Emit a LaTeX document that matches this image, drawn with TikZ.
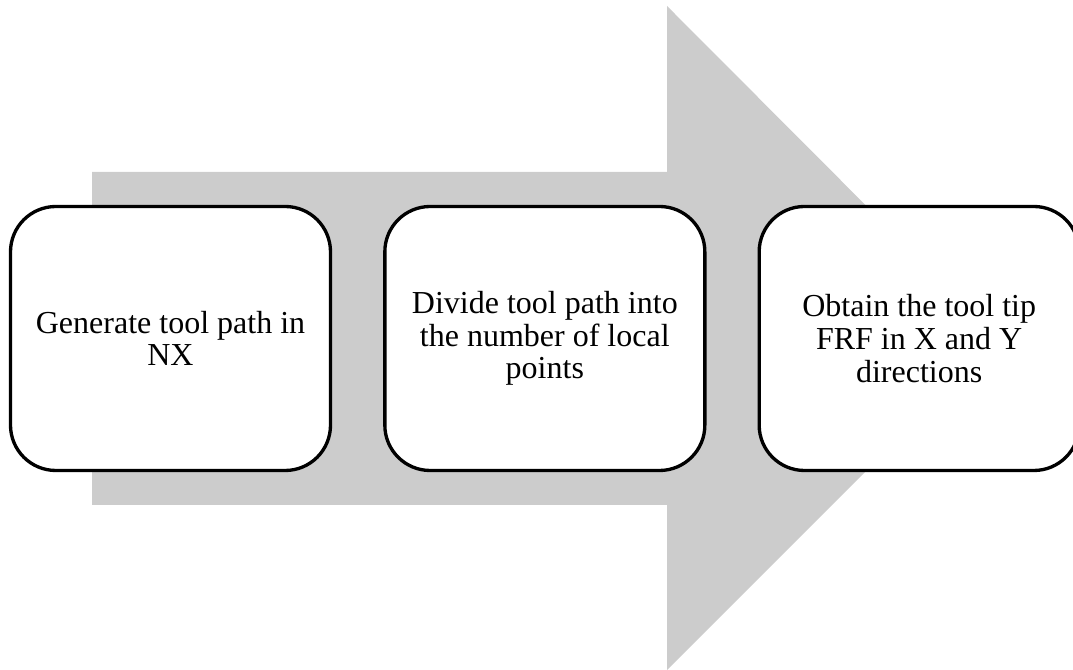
\documentclass[tikz,border=0pt]{standalone}
\usepackage{fontspec}
\setmainfont{Liberation Serif}
\usetikzlibrary{positioning}
\definecolor{arrowgray}{RGB}{204,204,204}
\begin{document}
\begin{tikzpicture}[
			x=0.75pt, y=0.75pt,
			stage/.style={draw, line width=2.5pt, fill=white, rectangle, rounded corners=34pt,
				minimum width=240pt, minimum height=198pt, align=center,
				font=\fontsize{24}{24.5}\selectfont},
			bigarrow/.style={fill=arrowgray, draw=none}
			]
			
			\useasboundingbox (0,0) rectangle (1073,670);
			
			% grey arrow behind the boxes
			\fill[bigarrow] (92,165) -- (92,498) -- (667,498) -- (667,664)
				-- (998.5,331.5) -- (667,0) -- (667,165) -- cycle;
			
			\node[stage] (gen) at (170.5,331.5) {Generate tool path in\\NX};
			\node[stage, right=38.25pt of gen] (divide) {Divide tool path into\\the number of local\\points};
			\node[stage, right=38.25pt of divide] (obtain) {Obtain the tool tip\\FRF in X and Y\\directions};
		\end{tikzpicture}
\end{document}
